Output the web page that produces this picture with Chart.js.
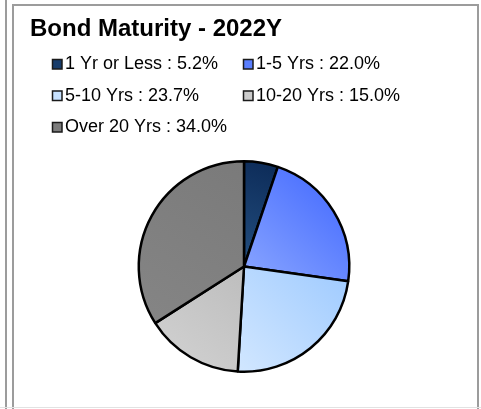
<!DOCTYPE html>
<html>
<head>
<meta charset="utf-8">
<script src="https://cdn.jsdelivr.net/npm/chart.js@4"></script>
<style>
  html, body { margin: 0; padding: 0; background: #fff; overflow: hidden; }
  #wrap { position: relative; width: 481px; height: 409px; }
  .edge { position: absolute; background: #9c9c9c; }
  #chart { position: absolute; left: 0; top: 0; }
</style>
</head>
<body>
<div id="wrap">
  <!-- neighbour panel edge + this panel's frame -->
  <div class="edge" style="left:5px;top:0;width:2px;height:409px"></div>
  <div class="edge" style="left:12px;top:4px;width:2px;height:405px"></div>
  <div class="edge" style="left:12px;top:4px;width:467px;height:2px"></div>
  <div class="edge" style="left:477px;top:4px;width:2px;height:405px"></div>
  <div class="edge" style="left:0;top:407px;width:481px;height:1px;background:#e2e2e2"></div>
  <canvas id="chart" width="481" height="409"></canvas>
</div>
<script>
// ========== DATOS ==========
const chartTitle = "Bond Maturity - 2022Y";
const categories = ["1 Yr or Less", "1-5 Yrs", "5-10 Yrs", "10-20 Yrs", "Over 20 Yrs"];
const shares = [5.2, 22.0, 23.7, 15.0, 34.0];

// light (lower-left) -> dark (upper-right) per slice
const lightColors = ["#234f80", "#8aa6ff", "#d2e7ff", "#d3d3d3", "#858585"];
const darkColors = ["#0c2a57", "#3d64ff", "#9ecaff", "#bdbdbd", "#7a7a7a"];
const legendColors = ["#173c6b", "#5b7fff", "#c6e1ff", "#cbcbcb", "#7c7c7c"];

const FONT = "'Liberation Sans', Arial, sans-serif";

// bounding box of one slice, from the data itself
function sliceBox(i, cx, cy, r) {
    const total = shares.reduce((a, b) => a + b, 0);
    const before = shares.slice(0, i).reduce((a, b) => a + b, 0);
    const a0 = -Math.PI / 2 + 2 * Math.PI * before / total;
    const a1 = a0 + 2 * Math.PI * shares[i] / total;
    const xs = [cx, cx + r * Math.cos(a0), cx + r * Math.cos(a1)];
    const ys = [cy, cy + r * Math.sin(a0), cy + r * Math.sin(a1)];
    for (let k = -1; k <= 4; k++) {
        const a = k * Math.PI / 2;
        if (a > a0 && a < a1) {
            xs.push(cx + r * Math.cos(a));
            ys.push(cy + r * Math.sin(a));
        }
    }
    return {
        minX: Math.min(...xs), maxX: Math.max(...xs),
        minY: Math.min(...ys), maxY: Math.max(...ys),
    };
}

function sliceFill(context) {
    const i = context.dataIndex;
    const chart = context.chart;
    const area = chart.chartArea;
    if (!area) return legendColors[i];
    const cx = (area.left + area.right) / 2;
    const cy = (area.top + area.bottom) / 2;
    const r = Math.min(area.width, area.height) / 2;
    const b = sliceBox(i, cx, cy, r);
    const g = chart.ctx.createLinearGradient(b.minX, b.maxY, b.maxX, b.minY);
    g.addColorStop(0, lightColors[i]);
    g.addColorStop(1, darkColors[i]);
    return g;
}

// ========== TÍTULO Y LEYENDA ==========
const panelText = {
    id: "panelText",
    afterDraw(chart) {
        const ctx = chart.ctx;
        ctx.save();
        ctx.fillStyle = "#000";
        ctx.textBaseline = "alphabetic";
        ctx.font = "bold 24px " + FONT;
        ctx.fillText(chartTitle, 30, 36);

        ctx.font = "18px " + FONT;
        const colX = [52, 243];
        categories.forEach((name, i) => {
            const col = i % 2;
            const row = Math.floor(i / 2);
            const base = 69 + row * 31.5;
            const x = colX[col];
            ctx.fillStyle = legendColors[i];
            ctx.fillRect(x, base - 10, 10, 10);
            ctx.strokeStyle = "#1a1a1a";
            ctx.lineWidth = 1.5;
            ctx.strokeRect(x + 0.5, base - 9.5, 9.5, 9.5);
            ctx.fillStyle = "#000";
            ctx.fillText(`${name} : ${shares[i].toFixed(1)}%`, x + 13, base);
        });
        ctx.restore();
    },
};

// ========== GRÁFICO ==========
new Chart(document.getElementById("chart"), {
    type: "pie",
    data: {
        labels: categories,
        datasets: [{
            data: shares,
            backgroundColor: sliceFill,
            borderColor: "#000",
            borderWidth: 2.5,
        }],
    },
    options: {
        responsive: false,
        animation: false,
        devicePixelRatio: 1,
        layout: { padding: { left: 137, right: 130, top: 160, bottom: 36 } },
        plugins: {
            legend: { display: false },
            title: { display: false },
            tooltip: { enabled: false },
        },
    },
    plugins: [panelText],
});
</script>
</body>
</html>
